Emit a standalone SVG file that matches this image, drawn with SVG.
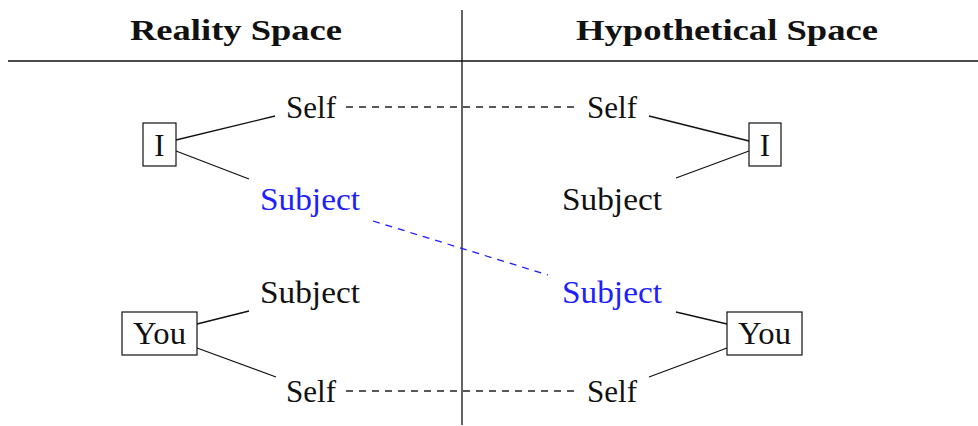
<svg xmlns="http://www.w3.org/2000/svg" width="978" height="426" viewBox="0 0 978 426">
<style>
text{font-family:"Liberation Serif","DejaVu Serif",serif;font-size:31px;fill:#111;text-anchor:middle}
.hdr{font-weight:bold;font-size:29px}
.blue{fill:#2020ff}
.box{fill:#fff;stroke:#111;stroke-width:1.2}
.ln{stroke:#111;stroke-width:1.3;fill:none}
.dash{stroke:#222;stroke-width:1.3;stroke-dasharray:7 6;fill:none}
.bdash{stroke:#1a1aff;stroke-width:1.3;stroke-dasharray:7 6;fill:none}
</style>
<rect width="978" height="426" fill="#fff"/>
<g id="frame">
<line class="ln" x1="462" y1="10" x2="462" y2="425"/>
<line class="ln" x1="8" y1="61" x2="978" y2="61"/>
<text class="hdr" x="236" y="40" textLength="212" lengthAdjust="spacingAndGlyphs">Reality Space</text>
<text class="hdr" x="727" y="40" textLength="302" lengthAdjust="spacingAndGlyphs">Hypothetical Space</text>
</g>
<g id="connectors">
<line class="ln" x1="176" y1="140" x2="275" y2="116"/>
<line class="ln" x1="176" y1="151" x2="249" y2="179"/>
<line class="ln" x1="649" y1="116" x2="749" y2="141"/>
<line class="ln" x1="676" y1="178" x2="749" y2="151"/>
<line class="ln" x1="197" y1="324" x2="249" y2="311"/>
<line class="ln" x1="197" y1="348" x2="276" y2="377"/>
<line class="ln" x1="676" y1="312" x2="727" y2="324"/>
<line class="ln" x1="649" y1="377" x2="727" y2="348"/>
<line class="dash" x1="346" y1="107" x2="578" y2="107"/>
<line class="dash" x1="346" y1="391" x2="578" y2="391"/>
<line class="bdash" x1="373" y1="221" x2="548" y2="275"/>
</g>
<g id="I-left">
<rect class="box" x="143" y="123" width="33" height="43"/>
<text x="159.5" y="156">I</text>
</g>
<g id="self-left-top"><text x="311" y="118" textLength="50" lengthAdjust="spacingAndGlyphs">Self</text></g>
<g id="subject-left-top"><text class="blue" x="310" y="210" textLength="100" lengthAdjust="spacingAndGlyphs">Subject</text></g>
<g id="I-right">
<rect class="box" x="749" y="123" width="32" height="43"/>
<text x="765" y="156">I</text>
</g>
<g id="self-right-top"><text x="612" y="118" textLength="50" lengthAdjust="spacingAndGlyphs">Self</text></g>
<g id="subject-right-top"><text x="612" y="210" textLength="100" lengthAdjust="spacingAndGlyphs">Subject</text></g>
<g id="You-left">
<rect class="box" x="122" y="312" width="75" height="43"/>
<text x="159.5" y="344" textLength="53" lengthAdjust="spacingAndGlyphs">You</text>
</g>
<g id="subject-left-bottom"><text x="310" y="303" textLength="100" lengthAdjust="spacingAndGlyphs">Subject</text></g>
<g id="self-left-bottom"><text x="311" y="402" textLength="50" lengthAdjust="spacingAndGlyphs">Self</text></g>
<g id="You-right">
<rect class="box" x="727" y="312" width="75" height="43"/>
<text x="764.5" y="344" textLength="53" lengthAdjust="spacingAndGlyphs">You</text>
</g>
<g id="subject-right-bottom"><text class="blue" x="612" y="303" textLength="100" lengthAdjust="spacingAndGlyphs">Subject</text></g>
<g id="self-right-bottom"><text x="612" y="402" textLength="50" lengthAdjust="spacingAndGlyphs">Self</text></g>
</svg>
